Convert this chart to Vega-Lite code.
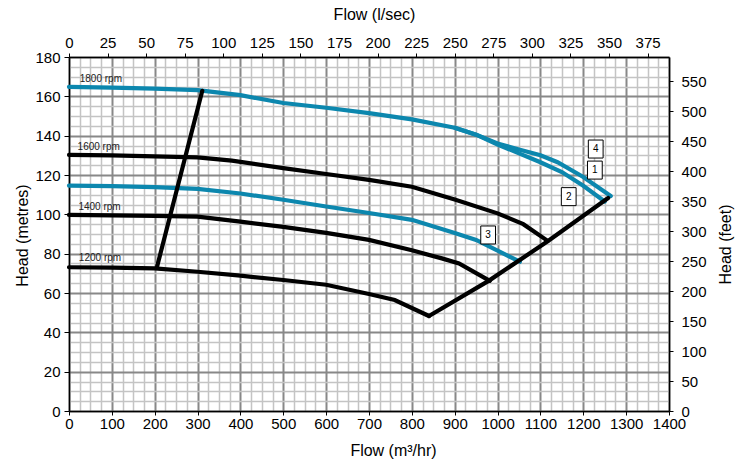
{
  "$schema": "https://vega.github.io/schema/vega-lite/v6.json",
  "width": 600,
  "height": 354,
  "autosize": {"type": "none"},
  "padding": {"left": 69, "top": 57, "right": 67, "bottom": 50},
  "background": "white",
  "config": {"view": {"stroke": null}, "font": "Liberation Sans"},
  "datasets": {
    "curves": [
      {"flow": 0, "head": 164.8, "series": "1800 rpm A"},
      {"flow": 100, "head": 164.4, "series": "1800 rpm A"},
      {"flow": 200, "head": 163.9, "series": "1800 rpm A"},
      {"flow": 300, "head": 163.2, "series": "1800 rpm A"},
      {"flow": 400, "head": 160.6, "series": "1800 rpm A"},
      {"flow": 500, "head": 156.6, "series": "1800 rpm A"},
      {"flow": 600, "head": 154.2, "series": "1800 rpm A"},
      {"flow": 700, "head": 151.5, "series": "1800 rpm A"},
      {"flow": 800, "head": 148.3, "series": "1800 rpm A"},
      {"flow": 900, "head": 144.0, "series": "1800 rpm A"},
      {"flow": 950, "head": 140.5, "series": "1800 rpm A"},
      {"flow": 1000, "head": 136.0, "series": "1800 rpm A"},
      {"flow": 1050, "head": 133.0, "series": "1800 rpm A"},
      {"flow": 1100, "head": 130.0, "series": "1800 rpm A"},
      {"flow": 1140, "head": 126.5, "series": "1800 rpm A"},
      {"flow": 1200, "head": 119.0, "series": "1800 rpm A"},
      {"flow": 1264, "head": 109.3, "series": "1800 rpm A"},
      {"flow": 900, "head": 144.0, "series": "1800 rpm B"},
      {"flow": 950, "head": 140.5, "series": "1800 rpm B"},
      {"flow": 1000, "head": 135.5, "series": "1800 rpm B"},
      {"flow": 1050, "head": 131.0, "series": "1800 rpm B"},
      {"flow": 1100, "head": 126.5, "series": "1800 rpm B"},
      {"flow": 1150, "head": 121.5, "series": "1800 rpm B"},
      {"flow": 1200, "head": 114.5, "series": "1800 rpm B"},
      {"flow": 1250, "head": 106.5, "series": "1800 rpm B"},
      {"flow": 0, "head": 130.2, "series": "1600 rpm"},
      {"flow": 100, "head": 130.0, "series": "1600 rpm"},
      {"flow": 200, "head": 129.5, "series": "1600 rpm"},
      {"flow": 300, "head": 129.0, "series": "1600 rpm"},
      {"flow": 380, "head": 127.3, "series": "1600 rpm"},
      {"flow": 500, "head": 123.5, "series": "1600 rpm"},
      {"flow": 600, "head": 120.5, "series": "1600 rpm"},
      {"flow": 700, "head": 117.5, "series": "1600 rpm"},
      {"flow": 800, "head": 114.0, "series": "1600 rpm"},
      {"flow": 900, "head": 107.5, "series": "1600 rpm"},
      {"flow": 1000, "head": 100.5, "series": "1600 rpm"},
      {"flow": 1060, "head": 95.0, "series": "1600 rpm"},
      {"flow": 1117, "head": 86.5, "series": "1600 rpm"},
      {"flow": 0, "head": 114.6, "series": "curve 3"},
      {"flow": 100, "head": 114.3, "series": "curve 3"},
      {"flow": 200, "head": 113.8, "series": "curve 3"},
      {"flow": 300, "head": 112.9, "series": "curve 3"},
      {"flow": 400, "head": 110.6, "series": "curve 3"},
      {"flow": 500, "head": 107.4, "series": "curve 3"},
      {"flow": 600, "head": 104.0, "series": "curve 3"},
      {"flow": 700, "head": 100.7, "series": "curve 3"},
      {"flow": 800, "head": 97.2, "series": "curve 3"},
      {"flow": 900, "head": 90.5, "series": "curve 3"},
      {"flow": 950, "head": 87.0, "series": "curve 3"},
      {"flow": 1052, "head": 75.9, "series": "curve 3"},
      {"flow": 0, "head": 99.7, "series": "1400 rpm"},
      {"flow": 100, "head": 99.5, "series": "1400 rpm"},
      {"flow": 200, "head": 99.2, "series": "1400 rpm"},
      {"flow": 300, "head": 98.8, "series": "1400 rpm"},
      {"flow": 400, "head": 96.3, "series": "1400 rpm"},
      {"flow": 500, "head": 93.6, "series": "1400 rpm"},
      {"flow": 600, "head": 90.6, "series": "1400 rpm"},
      {"flow": 700, "head": 87.0, "series": "1400 rpm"},
      {"flow": 800, "head": 81.7, "series": "1400 rpm"},
      {"flow": 870, "head": 77.6, "series": "1400 rpm"},
      {"flow": 910, "head": 75.0, "series": "1400 rpm"},
      {"flow": 982, "head": 66.2, "series": "1400 rpm"},
      {"flow": 0, "head": 73.1, "series": "1200 rpm"},
      {"flow": 100, "head": 72.9, "series": "1200 rpm"},
      {"flow": 200, "head": 72.5, "series": "1200 rpm"},
      {"flow": 300, "head": 70.8, "series": "1200 rpm"},
      {"flow": 400, "head": 68.8, "series": "1200 rpm"},
      {"flow": 500, "head": 66.6, "series": "1200 rpm"},
      {"flow": 600, "head": 64.2, "series": "1200 rpm"},
      {"flow": 700, "head": 59.5, "series": "1200 rpm"},
      {"flow": 760, "head": 56.4, "series": "1200 rpm"},
      {"flow": 840, "head": 48.3, "series": "1200 rpm"},
      {"flow": 205, "head": 73.0, "series": "min flow"},
      {"flow": 311, "head": 162.8, "series": "min flow"},
      {"flow": 840, "head": 48.3, "series": "max flow"},
      {"flow": 980, "head": 66.3, "series": "max flow"},
      {"flow": 1117, "head": 86.3, "series": "max flow"},
      {"flow": 1258, "head": 108.3, "series": "max flow"}
    ],
    "rpm": [
      {"flow": 25, "head": 168.6, "label": "1800 rpm"},
      {"flow": 20, "head": 134.4, "label": "1600 rpm"},
      {"flow": 22, "head": 103.9, "label": "1400 rpm"},
      {"flow": 23, "head": 77.6, "label": "1200 rpm"}
    ],
    "boxes": [
      {"flow": 1229, "head": 133.2, "label": "4"},
      {"flow": 1227, "head": 122.5, "label": "1"},
      {"flow": 1166, "head": 109.0, "label": "2"},
      {"flow": 978, "head": 89.5, "label": "3"}
    ]
  },
  "layer": [
    {
      "encoding": {
        "x": {
          "field": "flow",
          "type": "quantitative",
          "scale": {"domain": [0, 1400], "nice": false, "zero": false},
          "axis": {
            "orient": "bottom",
            "values": [0,25,50,75,100,125,150,175,200,225,250,275,300,325,350,375,400,425,450,475,500,525,550,575,600,625,650,675,700,725,750,775,800,825,850,875,900,925,950,975,1000,1025,1050,1075,1100,1125,1150,1175,1200,1225,1250,1275,1300,1325,1350,1375,1400],
            "format": "d",
            "labelExpr": "datum.value % 100 === 0 ? datum.label : ''",
            "grid": true,
            "gridColor": {"condition": {"test": "datum.value % 100 === 0", "value": "#888888"}, "value": "#c4c4c4"},
            "gridWidth": {"condition": {"test": "datum.value % 100 === 0", "value": 2}, "value": 1.5},
            "gridOpacity": 1,
            "tickOpacity": {"condition": {"test": "datum.value % 100 === 0", "value": 1}, "value": 0},
            "tickColor": "#000",
            "tickSize": 4,
            "domainColor": "#000",
            "domainWidth": 1.5,
            "labelFont": "Liberation Sans",
            "labelFontSize": 15,
            "labelColor": "#000",
            "labelPadding": 1,
            "labelFlush": false,
            "labelOverlap": false,
            "title": "Flow (m³/hr)",
            "titleFont": "Liberation Sans",
            "titleFontSize": 16,
            "titleFontWeight": "normal",
            "titleColor": "#000",
            "titleX": 324,
            "titleY": 39,
            "titleAlign": "center",
            "titleBaseline": "middle"
          }
        },
        "y": {
          "field": "head",
          "type": "quantitative",
          "scale": {"domain": [0, 180], "nice": false, "zero": false},
          "axis": {
            "orient": "left",
            "values": [0,5,10,15,20,25,30,35,40,45,50,55,60,65,70,75,80,85,90,95,100,105,110,115,120,125,130,135,140,145,150,155,160,165,170,175,180],
            "format": "d",
            "labelExpr": "datum.value % 20 === 0 ? datum.label : ''",
            "grid": true,
            "gridColor": {"condition": {"test": "datum.value % 20 === 0", "value": "#888888"}, "value": "#c4c4c4"},
            "gridWidth": {"condition": {"test": "datum.value % 20 === 0", "value": 2}, "value": 1.5},
            "gridOpacity": 1,
            "tickOpacity": {"condition": {"test": "datum.value % 20 === 0", "value": 1}, "value": 0},
            "tickColor": "#000",
            "tickSize": 5,
            "domainColor": "#000",
            "domainWidth": 1.5,
            "labelFont": "Liberation Sans",
            "labelFontSize": 15,
            "labelColor": "#000",
            "labelPadding": 4,
            "labelFlush": false,
            "labelOverlap": false,
            "title": "Head (metres)",
            "titleFont": "Liberation Sans",
            "titleFontSize": 16,
            "titleFontWeight": "normal",
            "titleColor": "#000",
            "titleX": -47,
            "titleY": 178,
            "titleAngle": 270,
            "titleAlign": "center",
            "titleBaseline": "middle"
          }
        }
      },
      "layer": [
        {
          "data": {"name": "curves"},
          "mark": {"type": "line", "strokeWidth": 4.2, "strokeCap": "round"},
          "encoding": {
            "color": {
              "field": "series",
              "type": "nominal",
              "scale": {
                "domain": ["1800 rpm A", "1800 rpm B", "1600 rpm", "curve 3", "1400 rpm", "1200 rpm", "min flow", "max flow"],
                "range": ["#0c87ae", "#0c87ae", "#000000", "#0c87ae", "#000000", "#000000", "#000000", "#000000"]
              },
              "legend": null
            }
          }
        },
        {
          "data": {"name": "rpm"},
          "mark": {"type": "text", "align": "left", "baseline": "middle", "fontSize": 10, "font": "Liberation Sans", "color": "#222"},
          "encoding": {"text": {"field": "label"}}
        },
        {
          "data": {"name": "boxes"},
          "mark": {"type": "point", "shape": "M-0.82,-1L0.82,-1L0.82,1L-0.82,1Z", "size": 324, "filled": true, "fill": "white", "stroke": "black", "opacity": 1},
          "encoding": {
            "strokeWidth": {
              "field": "label",
              "type": "nominal",
              "scale": {"domain": ["1", "2", "3", "4"], "range": [1, 1, 1, 2]},
              "legend": null
            }
          }
        },
        {
          "data": {"name": "boxes"},
          "mark": {"type": "text", "align": "center", "baseline": "middle", "fontSize": 10, "font": "Liberation Sans", "color": "#000"},
          "encoding": {"text": {"field": "label"}}
        }
      ]
    },
    {
      "data": {"values": [{"ls": 0}, {"ls": 375}]},
      "mark": {"type": "point", "opacity": 0},
      "encoding": {
        "x": {
          "field": "ls",
          "type": "quantitative",
          "scale": {"domain": [0, 388.889], "nice": false, "zero": false},
          "axis": {
            "orient": "top",
            "values": [0,25,50,75,100,125,150,175,200,225,250,275,300,325,350,375],
            "grid": false,
            "tickColor": "#000",
            "tickSize": 4,
            "domainColor": "#000",
            "domainWidth": 1.5,
            "labelFont": "Liberation Sans",
            "labelFontSize": 15,
            "labelColor": "#000",
            "labelPadding": 3,
            "labelFlush": false,
            "labelOverlap": false,
            "title": "Flow (l/sec)",
            "titleFont": "Liberation Sans",
            "titleFontSize": 16,
            "titleFontWeight": "normal",
            "titleColor": "#000",
            "titleX": 305,
            "titleY": -43,
            "titleAlign": "center",
            "titleBaseline": "middle"
          }
        }
      }
    },
    {
      "data": {"values": [{"ft": 0}, {"ft": 550}]},
      "mark": {"type": "point", "opacity": 0},
      "encoding": {
        "y": {
          "field": "ft",
          "type": "quantitative",
          "scale": {"domain": [0, 590.55], "nice": false, "zero": false},
          "axis": {
            "orient": "right",
            "values": [0,50,100,150,200,250,300,350,400,450,500,550],
            "grid": false,
            "tickColor": "#000",
            "tickSize": 4,
            "domainColor": "#000",
            "domainWidth": 1.5,
            "labelFont": "Liberation Sans",
            "labelFontSize": 15,
            "labelColor": "#000",
            "labelPadding": 8,
            "labelFlush": false,
            "labelOverlap": false,
            "title": "Head (feet)",
            "titleFont": "Liberation Sans",
            "titleFontSize": 16,
            "titleFontWeight": "normal",
            "titleColor": "#000",
            "titleX": 56,
            "titleY": 187,
            "titleAngle": 270,
            "titleAlign": "center",
            "titleBaseline": "middle"
          }
        }
      }
    }
  ],
  "resolve": {"scale": {"x": "independent", "y": "independent"}}
}
